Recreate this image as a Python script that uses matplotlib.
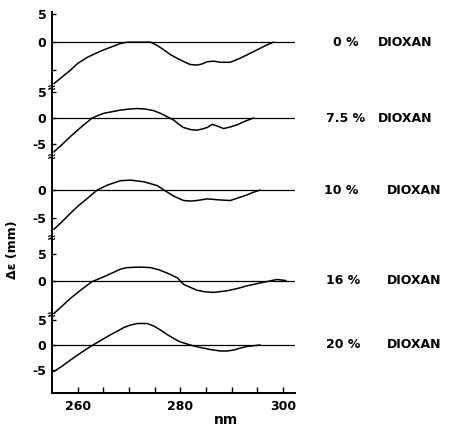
import matplotlib
matplotlib.use('Agg')
import matplotlib.pyplot as plt
import matplotlib.transforms as mtransforms
import numpy as np

# CD spectra, one curve per dioxan content
labels = ['0 %', '7.5 %', '10 %', '16 %', '20 %']

nm_0 = [255.4, 257, 258.6, 260, 261.9, 263.5, 265, 266.7, 268.3, 269.6, 272, 274.2,
        275.5, 276.8, 278, 279.4, 280.7, 281.9, 283.2, 284.2, 285.2, 286.5, 287.8,
        289.7, 291.3, 292.9, 294.2, 295.5, 296.8, 298.1]
de_0 = [-7.4, -6.2, -5.0, -3.8, -2.7, -2.0, -1.4, -0.8, -0.25, 0, 0, 0,
        -0.6, -1.4, -2.2, -2.9, -3.5, -4.0, -4.1, -3.9, -3.5, -3.4, -3.6,
        -3.6, -3.0, -2.3, -1.7, -1.1, -0.5, 0]

nm_75 = [255.4, 257, 258.6, 260.7, 262.8, 264, 265.1, 266.7, 268.3, 270, 271.6, 273.2,
         274.8, 276.1, 277.4, 278.7, 279.7, 280.6, 282, 283.2, 284.2, 285.2, 286.2,
         287.1, 288.4, 289.7, 291, 292.6, 294.2]
de_75 = [-6.4, -5.0, -3.5, -1.7, 0, 0.5, 0.9, 1.2, 1.5, 1.7, 1.8, 1.7,
         1.4, 0.9, 0.25, -0.4, -1.2, -1.8, -2.2, -2.3, -2.1, -1.8, -1.2,
         -1.5, -2.0, -1.7, -1.3, -0.6, 0]

nm_10 = [255.4, 257, 258.6, 260.2, 261.9, 263.8, 265.8, 268.3, 270.3, 272.9, 275.5,
         276.8, 278.7, 280.6, 282, 283.2, 285.2, 287.8, 289.7, 291.3, 292.9, 294.2, 295.5]
de_10 = [-7.1, -5.7, -4.2, -2.8, -1.5, 0, 0.9, 1.7, 1.8, 1.5, 0.8,
         0, -1.1, -1.9, -2.0, -1.9, -1.6, -1.8, -1.9, -1.4, -0.9, -0.4, 0]

nm_16 = [255.4, 257, 258.6, 260.7, 262.8, 265.1, 266.7, 268.3, 269.6, 272, 274.2, 275.8,
         277.4, 279.4, 280.6, 282, 283.2, 284.8, 286.5, 289.1, 291, 292.9, 294.8,
         296.8, 298.8, 300.5]
de_16 = [-6.1, -4.7, -3.3, -1.7, -0.2, 0.7, 1.4, 2.1, 2.4, 2.5, 2.4, 2.0,
         1.4, 0.5, -0.7, -1.3, -1.8, -2.1, -2.2, -1.9, -1.5, -1.0, -0.6,
         -0.2, 0.2, 0]

nm_20 = [255.4, 257, 258.6, 260.7, 262.8, 264.3, 265.8, 267.4, 269, 270.3, 271.6, 273.5,
         274.8, 276.1, 277.4, 278.7, 280, 281.3, 282.6, 283.9, 285.8, 287.8, 289.1,
         290.4, 291.7, 292.9, 295.5]
de_20 = [-5.3, -4.2, -3.0, -1.5, -0.1, 0.8, 1.7, 2.6, 3.5, 4.0, 4.3, 4.3,
         3.8, 3.0, 2.1, 1.3, 0.6, 0.2, -0.2, -0.5, -0.9, -1.2, -1.2,
         -1.0, -0.6, -0.3, 0]

nms = [nm_0, nm_75, nm_10, nm_16, nm_20]
des = [de_0, de_75, de_10, de_16, de_20]

ytick_vals = [[5, 0, -5], [5, 0, -5], [0, -5], [5, 0], [5, 0, -5]]
ytick_text = [['5', '0', ''], ['5', '0', '-5'], ['0', '-5'], ['5', '0'], ['5', '0', '-5']]

# layout, in pixels of the 452x430 picture
W, H = 452, 430
x0, x1 = 52, 295
panel_px = [(12, 88), (88, 157), (157, 238), (238, 315), (315, 393)]
ylims = [(-8.2, 5.4), (-7.4, 5.7), (-8.7, 6.0), (-6.4, 7.9), (-9.6, 6.0)]
dioxan_x = [378, 378, 387, 387, 387]
pct_x = [333, 326, 324, 326, 326]

fig = plt.figure(figsize=(W / 100, H / 100), dpi=100)
fnt = dict(fontweight='bold', fontsize=9)

for i in range(5):
    top, bot = panel_px[i]
    ax = fig.add_axes([x0 / W, 1 - bot / H, (x1 - x0) / W, (bot - top) / H])
    ax.patch.set_alpha(0)
    ax.plot(nms[i], des[i], color='black', lw=1.1)
    ax.axhline(0, color='black', lw=0.9)
    ax.set_xlim(255, 302.3)
    ax.set_ylim(*ylims[i])
    for s in ['top', 'right']:
        ax.spines[s].set_visible(False)
    ax.spines['left'].set_linewidth(1.4)
    ax.set_yticks(ytick_vals[i])
    ax.set_yticklabels(ytick_text[i], **fnt)
    ax.tick_params(axis='y', direction='in', length=3, width=1, pad=4)
    if i < 4:
        ax.spines['bottom'].set_visible(False)
        ax.set_xticks([])
    else:
        ax.spines['bottom'].set_linewidth(1.4)
        ax.set_xticks([260, 280, 300])
        ax.set_xticklabels(['260', '280', '300'], **fnt)
        ax.set_xticks(np.arange(260, 301, 5), minor=True)
        ax.tick_params(axis='x', which='both', direction='in', length=4, width=1, pad=5)
    trans = mtransforms.blended_transform_factory(fig.transFigure, ax.transData)
    ax.text(pct_x[i] / W, 0, labels[i], transform=trans, va='center', ha='left', **fnt)
    ax.text(dioxan_x[i] / W, 0, 'DIOXAN', transform=trans, va='center', ha='left', **fnt)

# break marks on the axis
for top, bot in panel_px[1:]:
    fig.text(x0 / W, 1 - top / H, '\u2248', ha='center', va='center', fontsize=8, fontweight='bold')

fig.text(13 / W, 1 - 250 / H, '\u0394\u03b5 (mm)', rotation=90, ha='center', va='center', **fnt)
fig.text(226 / W, 1 - 420 / H, 'nm', ha='center', va='center', fontsize=10, fontweight='bold')

fig.savefig('out.png', dpi=100)
